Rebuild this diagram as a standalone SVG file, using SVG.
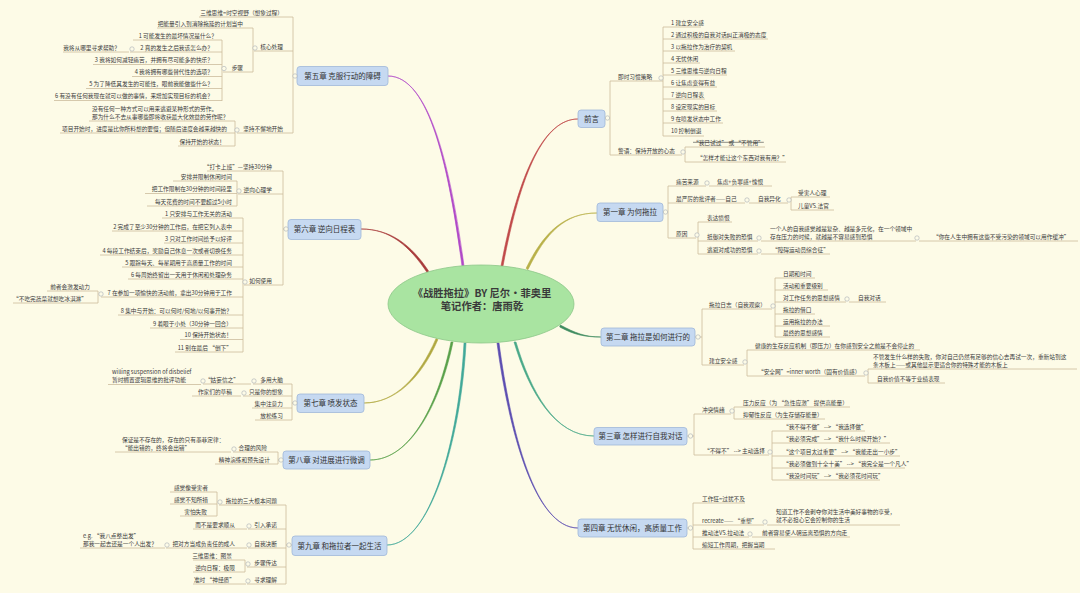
<svg xmlns="http://www.w3.org/2000/svg" width="1080" height="593" viewBox="0 0 1080 593">
<style>
text{font-family:"Noto Sans CJK SC","Noto Sans",sans-serif;fill:#3a3a3a}
.t{font-size:5.7px}
.r{text-anchor:end}
.u{stroke:#cbbd9d;stroke-width:0.8;fill:none}
.v{stroke:#cbbd9d;stroke-width:0.8;fill:none}
.k{fill:#fdfbe7;stroke:#a7aeb6;stroke-width:0.6}
.box{fill:#c6d9f1;stroke:#9fb8d9;stroke-width:0.8}
.ch{font-size:7.5px;text-anchor:middle;fill:#333}
.cv{stroke-width:0.6}
</style>
<rect width="1080" height="593" fill="#fdfbe7"/>

<g id="connectors">
  <path d="M464 266 C451 170 430 76 388 76 C430 76 449 170 462 266 Z" fill="#b048c8" stroke="#b048c8" class="cv"/>
  <path d="M428.7 271.2 C410.7 244.2 390 229 361 229 C390 229 409.3 245.8 427.3 272.8 Z" fill="#a83a3a" stroke="#a83a3a" class="cv"/>
  <path d="M437.9 339.6 C420.9 378.6 395 403 364 403 C395 403 419.1 377.4 436.1 338.4 Z" fill="#b0a840" stroke="#b0a840" class="cv"/>
  <path d="M453 342 C441 400 412 460 370 460 C412 460 439 400 451 342 Z" fill="#58a048" stroke="#58a048" class="cv"/>
  <path d="M466 343 C461 440 430 545 387 545 C430 545 459 440 464 343 Z" fill="#40a898" stroke="#40a898" class="cv"/>
  <path d="M503 266 C521 170 545 119 578 119 C545 119 519 170 501 266 Z" fill="#c04848" stroke="#c04848" class="cv"/>
  <path d="M527.9 269.7 C545.9 232.7 565 213 597 213 C565 213 544.1 231.3 526.1 268.3 Z" fill="#b8b048" stroke="#b8b048" class="cv"/>
  <path d="M559.7 327 C574.7 335 585 337 601 337 C585 337 575.3 333 560.3 325 Z" fill="#3f8c60" stroke="#3f8c60" class="cv"/>
  <path d="M516 342 C531 392 555 436 594 436 C555 436 529 392 514 342 Z" fill="#48a888" stroke="#48a888" class="cv"/>
  <path d="M499 343 C511 432 535 528 578 528 C535 528 509 432 497 343 Z" fill="#5a4cb0" stroke="#5a4cb0" class="cv"/>

  <path class="v" d="M297 76H293M293 17V133M253 28V72M222 40V101M235 121V146"/>
  <path class="v" d="M288 229H283M283 171V285M237 181V206M243 218V352M98 291V303"/>
  <path class="v" d="M297 403H292M292 384V420"/>
  <path class="v" d="M283 460H278M278 452V464"/>
  <path class="v" d="M292 545H286M286 505V584M217 492V516M245 560V572"/>
  <path class="v" d="M605 118H610M610 81V155M663 27V136M685 147V162"/>
  <path class="v" d="M663 212H668M668 186V238M791 197V210M698 222V254"/>
  <path class="v" d="M695 337H702M702 309V365M775 278V337M747 350V376M868 369V383"/>
  <path class="v" d="M687 436H694M694 414V455M734 407V419M772 431V480"/>
  <path class="v" d="M687 528H693M693 503V549"/>
</g>

<g id="center">
  <ellipse cx="481" cy="304" rx="93" ry="39" fill="#a9e4a1" stroke="#8cc788" stroke-width="0.8"/>
  <text x="482" y="297" font-size="10.3" font-weight="bold" text-anchor="middle" fill="#333">《战胜拖拉》BY 尼尔·菲奥里</text>
  <text x="482" y="310" font-size="10.3" font-weight="bold" text-anchor="middle" fill="#333">笔记作者：唐雨乾</text>
</g>

<!-- ================= Chapter 5 ================= -->
<g id="ch5"><rect class="box" x="297" y="66.5" width="91" height="19" rx="3"/><text class="ch" x="342.5" y="79">第五章 克服行动的障碍</text><circle class="k" cx="295" cy="76" r="2.2"/></g>
<g id="ch5-a"><path class="u" d="M199 17H293"/><text class="t r" x="283" y="14.5">三维思维=时空视野（想象过程）</text></g>
<g id="ch5-b"><path class="u" d="M254 51H293"/><text class="t r" x="283" y="49">核心处理</text><circle class="k" cx="255" cy="48" r="2.2"/></g>
<g id="ch5-b1"><path class="u" d="M157 28H253"/><text class="t r" x="243" y="25.5">把能量引入到消除拖延的计划当中</text></g>
<g id="ch5-b2"><path class="u" d="M223 72H253"/><text class="t r" x="243" y="69.5">步骤</text><circle class="k" cx="224" cy="68.5" r="2.2"/></g>
<g id="ch5-s1"><path class="u" d="M133 40H222"/><text class="t r" x="217" y="37.5">1 可能发生的最坏情况是什么？</text></g>
<g id="ch5-s2"><path class="u" d="M130 52H222"/><text class="t r" x="213" y="49.5">2 真的发生之后我该怎么办？</text><circle class="k" cx="132" cy="49" r="2.2"/></g>
<g id="ch5-s2a"><path class="u" d="M63 52H129"/><text class="t r" x="120" y="49.5">我将从哪里寻求帮助？</text></g>
<g id="ch5-s3"><path class="u" d="M93 64.5H222"/><text class="t r" x="213" y="62">3 我将如何减轻痛苦，并拥有尽可能多的快乐？</text></g>
<g id="ch5-s4"><path class="u" d="M132 76.5H222"/><text class="t r" x="213" y="74">4 我将拥有哪些替代性的选项？</text></g>
<g id="ch5-s5"><path class="u" d="M86 88.5H222"/><text class="t r" x="213" y="86">5 为了降低其发生的可能性，眼前我能做些什么？</text></g>
<g id="ch5-s6"><path class="u" d="M54 100.5H222"/><text class="t r" x="213" y="98">6 有没有任何我现在就可以做的事情，来增加实现目标的机会？</text></g>
<g id="ch5-c"><path class="u" d="M237 133H293"/><text class="t r" x="283" y="130.5">坚持不懈地开始</text><circle class="k" cx="237" cy="130" r="2.2"/></g>
<g id="ch5-c1"><path class="u" d="M89 121H235"/><text class="t" x="92" y="111">没有任何一种方式可以用来逃避某种形式的劳作。</text><text class="t" x="92" y="119">那为什么不去从事哪些即将收获最大化效益的劳作呢？</text></g>
<g id="ch5-c2"><path class="u" d="M60 133H235"/><text class="t r" x="227" y="130.5">项目开始时，进度是比你所料想的要慢；但随后进度会越来越快的</text></g>
<g id="ch5-c3"><path class="u" d="M178 146H235"/><text class="t r" x="225" y="143.5">保持开始的状态！</text></g>

<!-- ================= Chapter 6 ================= -->
<g id="ch6"><rect class="box" x="288" y="219.5" width="73" height="20" rx="3"/><text class="ch" x="324.5" y="232">第六章 逆向日程表</text><circle class="k" cx="286" cy="229" r="2.2"/></g>
<g id="ch6-a"><path class="u" d="M207 171H283"/><text class="t r" x="272" y="168.5">“打卡上班”—坚持30分钟</text></g>
<g id="ch6-b"><path class="u" d="M238 194H283"/><text class="t r" x="272" y="191.5">逆向心理学</text><circle class="k" cx="239" cy="191" r="2.2"/></g>
<g id="ch6-b1"><path class="u" d="M173 181H237"/><text class="t r" x="232" y="178.5">安排并限制休闲时间</text></g>
<g id="ch6-b2"><path class="u" d="M145 193.5H237"/><text class="t r" x="232" y="191">把工作限制在30分钟的时间段里</text></g>
<g id="ch6-b3"><path class="u" d="M147 206H237"/><text class="t r" x="232" y="203.5">每天花费的时间不要超过5小时</text></g>
<g id="ch6-c"><path class="u" d="M244 285H283"/><text class="t r" x="272" y="282.5">如何使用</text><circle class="k" cx="245" cy="282" r="2.2"/></g>
<g id="ch6-c1"><path class="u" d="M162 218H243"/><text class="t r" x="232" y="215.5">1 只安排与工作无关的活动</text></g>
<g id="ch6-c2"><path class="u" d="M112 231H243"/><text class="t r" x="232" y="228.5">2 完成了至少30分钟的工作后，在把它列入表中</text></g>
<g id="ch6-c3"><path class="u" d="M164 243H243"/><text class="t r" x="232" y="240.5">3 只对工作时间给予以好评</text></g>
<g id="ch6-c4"><path class="u" d="M100 255H243"/><text class="t r" x="232" y="252.5">4 每段工作结束后，奖励自己休息一次或者切换任务</text></g>
<g id="ch6-c5"><path class="u" d="M122 267H243"/><text class="t r" x="232" y="264.5">5 跟踪每天、每星期用于高质量工作的时间</text></g>
<g id="ch6-c6"><path class="u" d="M128 279H243"/><text class="t r" x="232" y="276.5">6 每周始终留出一天用于休闲和处理杂务</text></g>
<g id="ch6-c7"><path class="u" d="M101 297H243"/><text class="t r" x="232" y="294.5">7 在参加一项愉快的活动前，拿出30分钟用于工作</text><circle class="k" cx="101" cy="294" r="2.2"/></g>
<g id="ch6-c7a"><path class="u" d="M47 291H98"/><text class="t r" x="90" y="288.5">前者会激发动力</text></g>
<g id="ch6-c7b"><path class="u" d="M13 303H98"/><text class="t r" x="87" y="300.5">“不吃完蔬菜就想吃冰淇淋”</text></g>
<g id="ch6-c8"><path class="u" d="M118 315H243"/><text class="t r" x="232" y="312.5">8 集中与开始：可以何时/何地/以何事开始？</text></g>
<g id="ch6-c9"><path class="u" d="M150 328H243"/><text class="t r" x="232" y="325.5">9 着眼于小处（30分钟一回合）</text></g>
<g id="ch6-c10"><path class="u" d="M180 339.5H243"/><text class="t r" x="232" y="337">10 保持开始状态！</text></g>
<g id="ch6-c11"><path class="u" d="M175 352H243"/><text class="t r" x="232" y="349.5">11 别在最后 “倒下”</text></g>

<!-- ================= Chapter 7 ================= -->
<g id="ch7"><rect class="box" x="297" y="394" width="67" height="18.5" rx="3"/><text class="ch" x="330.5" y="406">第七章 喷发状态</text><circle class="k" cx="295" cy="403" r="2.2"/></g>
<g id="ch7-a"><path class="u" d="M253 384H292"/><text class="t r" x="283" y="381.5">多用大脑</text><circle class="k" cx="254" cy="381" r="2.2"/></g>
<g id="ch7-a1"><path class="u" d="M203 384H251"/><text class="t r" x="239" y="381.5">“姑妄信之”</text><circle class="k" cx="203" cy="381" r="2.2"/></g>
<g id="ch7-a1a"><path class="u" d="M108 384.5H201"/><text class="t" x="112" y="374">willing suspension of disbelief</text><text class="t" x="112" y="382">暂时搁置逻辑思维的批评功能</text></g>
<g id="ch7-b"><path class="u" d="M243 396H292"/><text class="t r" x="283" y="393.5">只是你的想象</text><circle class="k" cx="244" cy="393" r="2.2"/></g>
<g id="ch7-b1"><path class="u" d="M192 396H241"/><text class="t r" x="232" y="393.5">作家们的草稿</text></g>
<g id="ch7-c"><path class="u" d="M252 408H292"/><text class="t r" x="283" y="405.5">集中注意力</text></g>
<g id="ch7-d"><path class="u" d="M255 420H292"/><text class="t r" x="283" y="417.5">放松练习</text></g>

<!-- ================= Chapter 8 ================= -->
<g id="ch8"><rect class="box" x="283" y="451" width="87" height="18" rx="3"/><text class="ch" x="326.5" y="462.8">第八章 对进展进行微调</text><circle class="k" cx="281" cy="460" r="2.2"/></g>
<g id="ch8-a"><path class="u" d="M233 452H278"/><text class="t r" x="267" y="449.5">合理的风险</text><circle class="k" cx="234" cy="449" r="2.2"/></g>
<g id="ch8-a1"><path class="u" d="M115 452H231"/><text class="t" x="122" y="442">保证是不存在的，存在的只有墨菲定律：</text><text class="t" x="122" y="450">“能出错的，终将会出错”</text></g>
<g id="ch8-b"><path class="u" d="M215 464H278"/><text class="t r" x="270" y="461.5">精神演练和预先设计</text></g>

<!-- ================= Chapter 9 ================= -->
<g id="ch9"><rect class="box" x="292" y="536" width="95" height="19.5" rx="3"/><text class="ch" x="339.5" y="548.5">第九章 和拖拉者一起生活</text><circle class="k" cx="289" cy="545" r="2.2"/></g>
<g id="ch9-a"><path class="u" d="M219 505H286"/><text class="t r" x="277" y="502.5">拖拉的三大根本问题</text><circle class="k" cx="220" cy="502" r="2.2"/></g>
<g id="ch9-a1"><path class="u" d="M170 492H217"/><text class="t r" x="208" y="489.5">感觉像受害者</text></g>
<g id="ch9-a2"><path class="u" d="M170 504H217"/><text class="t r" x="208" y="501.5">感觉不知所措</text></g>
<g id="ch9-a3"><path class="u" d="M180 516H217"/><text class="t r" x="207" y="513.5">害怕失败</text></g>
<g id="ch9-b"><path class="u" d="M248 529H286"/><text class="t r" x="277" y="526.5">引入承诺</text><circle class="k" cx="249" cy="526" r="2.2"/></g>
<g id="ch9-b1"><path class="u" d="M193 529H247"/><text class="t r" x="235" y="526.5">而不是要求顺从</text></g>
<g id="ch9-c"><path class="u" d="M248 548H286"/><text class="t r" x="277" y="545.5">自我决断</text><circle class="k" cx="249" cy="545" r="2.2"/></g>
<g id="ch9-c1"><path class="u" d="M166 548H247"/><text class="t r" x="235" y="545.5">把对方当成负责任的成人</text><circle class="k" cx="167" cy="545" r="2.2"/></g>
<g id="ch9-c1a"><path class="u" d="M80 548H165"/><text class="t" x="83" y="538">e.g. “我八点整出发”</text><text class="t" x="83" y="546">那我一起去还是一个人出发？</text></g>
<g id="ch9-d"><path class="u" d="M247 567H286"/><text class="t r" x="277" y="564.5">步骤传达</text><circle class="k" cx="248" cy="564" r="2.2"/></g>
<g id="ch9-d1"><path class="u" d="M193 560H245"/><text class="t r" x="232" y="557.5">三维思维：图景</text></g>
<g id="ch9-d2"><path class="u" d="M193 572H245"/><text class="t r" x="235" y="569.5">逆向日程：极限</text></g>
<g id="ch9-e"><path class="u" d="M247 584H286"/><text class="t r" x="277" y="581.5">寻求理解</text><circle class="k" cx="248" cy="581" r="2.2"/></g>
<g id="ch9-e1"><path class="u" d="M193 584H246"/><text class="t r" x="235" y="581.5">准时 “神经质”</text></g>

<!-- ================= Preface ================= -->
<g id="pre"><rect class="box" x="578" y="110" width="27" height="17.5" rx="3"/><text class="ch" x="591.5" y="121.5">前言</text><circle class="k" cx="607.5" cy="118" r="2.2"/></g>
<g id="pre-a"><path class="u" d="M610 81H663"/><text class="t" x="618" y="78.5">即时习惯策略</text><circle class="k" cx="661" cy="78" r="2.2"/></g>
<g id="pre-a1"><path class="u" d="M663 27H701"/><text class="t" x="671" y="24.5">1 建立安全感</text></g>
<g id="pre-a2"><path class="u" d="M663 39H768"/><text class="t" x="671" y="36.5">2 通过积极的自我对话纠正消极的态度</text></g>
<g id="pre-a3"><path class="u" d="M663 51H735"/><text class="t" x="671" y="48.5">3 以拖拉作为治疗的契机</text></g>
<g id="pre-a4"><path class="u" d="M663 63H700"/><text class="t" x="671" y="60.5">4 无忧休闲</text></g>
<g id="pre-a5"><path class="u" d="M663 75H727"/><text class="t" x="671" y="72.5">5 三维思维与逆向日程</text></g>
<g id="pre-a6"><path class="u" d="M663 87H717"/><text class="t" x="671" y="84.5">6 让焦虑变得有益</text></g>
<g id="pre-a7"><path class="u" d="M663 99H705"/><text class="t" x="671" y="96.5">7 逆向日程表</text></g>
<g id="pre-a8"><path class="u" d="M663 111H717"/><text class="t" x="671" y="108.5">8 设定现实的目标</text></g>
<g id="pre-a9"><path class="u" d="M663 123H723"/><text class="t" x="671" y="120.5">9 在喷发状态中工作</text></g>
<g id="pre-a10"><path class="u" d="M663 136H704"/><text class="t" x="671" y="133">10 控制倒退</text></g>
<g id="pre-b"><path class="u" d="M610 155H682"/><text class="t" x="618" y="152.5">警语：保持开放的心态</text><circle class="k" cx="683" cy="152" r="2.2"/></g>
<g id="pre-b1"><path class="u" d="M685 147H765"/><text class="t" x="693" y="144.5" text-decoration="line-through">“我已试过” 或 “不管用”</text></g>
<g id="pre-b2"><path class="u" d="M685 162H786"/><text class="t" x="697" y="159.5">“怎样才能让这个东西对我有用？”</text></g>

<!-- ================= Chapter 1 ================= -->
<g id="ch1"><rect class="box" x="597" y="203" width="66" height="18.5" rx="3"/><text class="ch" x="630" y="215">第一章 为何拖拉</text><circle class="k" cx="665.5" cy="212" r="2.2"/></g>
<g id="ch1-a"><path class="u" d="M668 186H706"/><text class="t" x="676" y="183.5">痛苦来源</text><circle class="k" cx="707" cy="183" r="2.2"/></g>
<g id="ch1-a1"><path class="u" d="M709 186H772"/><text class="t" x="717" y="183.5">焦虑+负罪感+愧恨</text></g>
<g id="ch1-b"><path class="u" d="M668 203H745"/><text class="t" x="676" y="200.5">最严厉的批评者——自己</text><circle class="k" cx="747" cy="200" r="2.2"/></g>
<g id="ch1-b1"><path class="u" d="M749 203H788"/><text class="t" x="758" y="200.5">自我异化</text><circle class="k" cx="789" cy="200" r="2.2"/></g>
<g id="ch1-b1a"><path class="u" d="M791 197H830"/><text class="t" x="798" y="194.5">受害人心理</text></g>
<g id="ch1-b1b"><path class="u" d="M791 210H834"/><text class="t" x="798" y="207.5">儿童VS.法官</text></g>
<g id="ch1-c"><path class="u" d="M668 238H696"/><text class="t" x="676" y="235.5">原因</text><circle class="k" cx="697" cy="235" r="2.2"/></g>
<g id="ch1-c1"><path class="u" d="M698 222H732"/><text class="t" x="707" y="219.5">表达愤恨</text></g>
<g id="ch1-c2"><path class="u" d="M698 241H758"/><text class="t" x="707" y="238.5">抵御对失败的恐惧</text><circle class="k" cx="759" cy="238" r="2.2"/></g>
<g id="ch1-c2a"><path class="u" d="M761 241H916"/><text class="t" x="770" y="231">一个人的自我感觉越是复杂、越是多元化，在一个领域中</text><text class="t" x="770" y="239">存在压力的时候，就越是不容易感到恐惧</text><circle class="k" cx="917" cy="238" r="2.2"/></g>
<g id="ch1-c2a1"><path class="u" d="M919 241H1078"/><text class="t" x="933" y="238.5">“你在人生中拥有这些不受污染的领域可以用作缓冲”</text></g>
<g id="ch1-c3"><path class="u" d="M698 254H758"/><text class="t" x="707" y="251.5">逃避对成功的恐惧</text><circle class="k" cx="759" cy="251" r="2.2"/></g>
<g id="ch1-c3a"><path class="u" d="M761 254H830"/><text class="t" x="772" y="251.5">“障碍运动员综合征”</text></g>

<!-- ================= Chapter 2 ================= -->
<g id="ch2"><rect class="box" x="601" y="328" width="94" height="18" rx="3"/><text class="ch" x="648" y="340">第二章 拖拉是如何进行的</text><circle class="k" cx="698" cy="337" r="2.2"/></g>
<g id="ch2-a"><path class="u" d="M702 309H772"/><text class="t" x="709" y="306.5">拖拉日志（自我观察）</text><circle class="k" cx="773" cy="306" r="2.2"/></g>
<g id="ch2-a1"><path class="u" d="M775 278H815"/><text class="t" x="783" y="275.5">日期和时间</text></g>
<g id="ch2-a2"><path class="u" d="M775 290H828"/><text class="t" x="783" y="287.5">活动和重要级别</text></g>
<g id="ch2-a3"><path class="u" d="M775 302H846"/><text class="t" x="783" y="299.5">对工作任务的思想感情</text><circle class="k" cx="847" cy="299" r="2.2"/></g>
<g id="ch2-a3a"><path class="u" d="M849 302H886"/><text class="t" x="858" y="299.5">自我对话</text></g>
<g id="ch2-a4"><path class="u" d="M775 314H815"/><text class="t" x="783" y="311.5">拖拉的借口</text></g>
<g id="ch2-a5"><path class="u" d="M775 326H830"/><text class="t" x="783" y="323.5">运用拖拉的办法</text></g>
<g id="ch2-a6"><path class="u" d="M775 337H830"/><text class="t" x="783" y="334.5">最终的思想感情</text></g>
<g id="ch2-b"><path class="u" d="M702 365H744"/><text class="t" x="709" y="362.5">建立安全感</text><circle class="k" cx="745" cy="362" r="2.2"/></g>
<g id="ch2-b1"><path class="u" d="M747 350H920"/><text class="t" x="755" y="347.5">健康的生存反应机制（即压力）在你感到安全之前是不会停止的</text></g>
<g id="ch2-b2"><path class="u" d="M747 376H865"/><text class="t" x="758" y="373.5">“安全网”=inner worth（固有价值感）</text><circle class="k" cx="866" cy="373" r="2.2"/></g>
<g id="ch2-b2a"><path class="u" d="M868 369H1077"/><text class="t" x="873" y="359">不管发生什么样的失败，你对自己仍然有足够的信心去再试一次，重新站到这</text><text class="t" x="873" y="367">条木板上——或其他显示更适合你的特殊才能的木板上</text></g>
<g id="ch2-b2b"><path class="u" d="M868 383H945"/><text class="t" x="877" y="380.5">自我价值不等于业绩表现</text></g>

<!-- ================= Chapter 3 ================= -->
<g id="ch3"><rect class="box" x="594" y="427.5" width="93" height="17.5" rx="3"/><text class="ch" x="640.5" y="439">第三章 怎样进行自我对话</text><circle class="k" cx="690.5" cy="436" r="2.2"/></g>
<g id="ch3-a"><path class="u" d="M694 414H731"/><text class="t" x="702" y="411.5">冲突情绪</text><circle class="k" cx="732" cy="411" r="2.2"/></g>
<g id="ch3-a1"><path class="u" d="M734 407H850"/><text class="t" x="743" y="404.5">压力反应（为 “急性应激” 提供高能量）</text></g>
<g id="ch3-a2"><path class="u" d="M734 419H825"/><text class="t" x="743" y="416.5">抑郁性反应（为生存储存能量）</text></g>
<g id="ch3-b"><path class="u" d="M694 455H769"/><text class="t" x="704" y="452.5">“不得不” --&gt; 主动选择</text><circle class="k" cx="770" cy="452" r="2.2"/></g>
<g id="ch3-b1"><path class="u" d="M772 431H865"/><text class="t" x="783" y="428.5">“我不得不做” --&gt; “我选择做”</text></g>
<g id="ch3-b2"><path class="u" d="M772 443H890"/><text class="t" x="783" y="440.5">“我必须完成” --&gt; “我什么时候开始？”</text></g>
<g id="ch3-b3"><path class="u" d="M772 456H900"/><text class="t" x="783" y="453.5">“这个项目太过重要” --&gt; “我能走出一小步”</text></g>
<g id="ch3-b4"><path class="u" d="M772 468H905"/><text class="t" x="783" y="465.5">“我必须做到十全十美” --&gt; “我完全是一个凡人”</text></g>
<g id="ch3-b5"><path class="u" d="M772 480H880"/><text class="t" x="783" y="477.5">“我没时间玩” --&gt; “我必须花时间玩”</text></g>

<!-- ================= Chapter 4 ================= -->
<g id="ch4"><rect class="box" x="578" y="519" width="109" height="18" rx="3"/><text class="ch" x="632.5" y="531">第四章 无忧休闲，高质量工作</text><circle class="k" cx="690.5" cy="528" r="2.2"/></g>
<g id="ch4-a"><path class="u" d="M693 503H745"/><text class="t" x="702" y="500.5">工作狂=过犹不及</text></g>
<g id="ch4-b"><path class="u" d="M693 525H764"/><text class="t" x="702" y="522.5">recreate—— “重塑”</text><circle class="k" cx="765" cy="522" r="2.2"/></g>
<g id="ch4-b1"><path class="u" d="M767 525H900"/><text class="t" x="776" y="514">知道工作不会剥夺你对生活中美好事物的享受，</text><text class="t" x="776" y="522">就不必担心它会控制你的生活</text></g>
<g id="ch4-c"><path class="u" d="M693 537H749"/><text class="t" x="702" y="534.5">推动法VS.拉动法</text><circle class="k" cx="750" cy="534" r="2.2"/></g>
<g id="ch4-c1"><path class="u" d="M752 537H850"/><text class="t" x="762" y="534.5">前者容易使人朝远离恐惧的方向走</text></g>
<g id="ch4-d"><path class="u" d="M693 549H775"/><text class="t" x="702" y="546.5">缩短工作周期，把握当期</text></g>
</svg>
